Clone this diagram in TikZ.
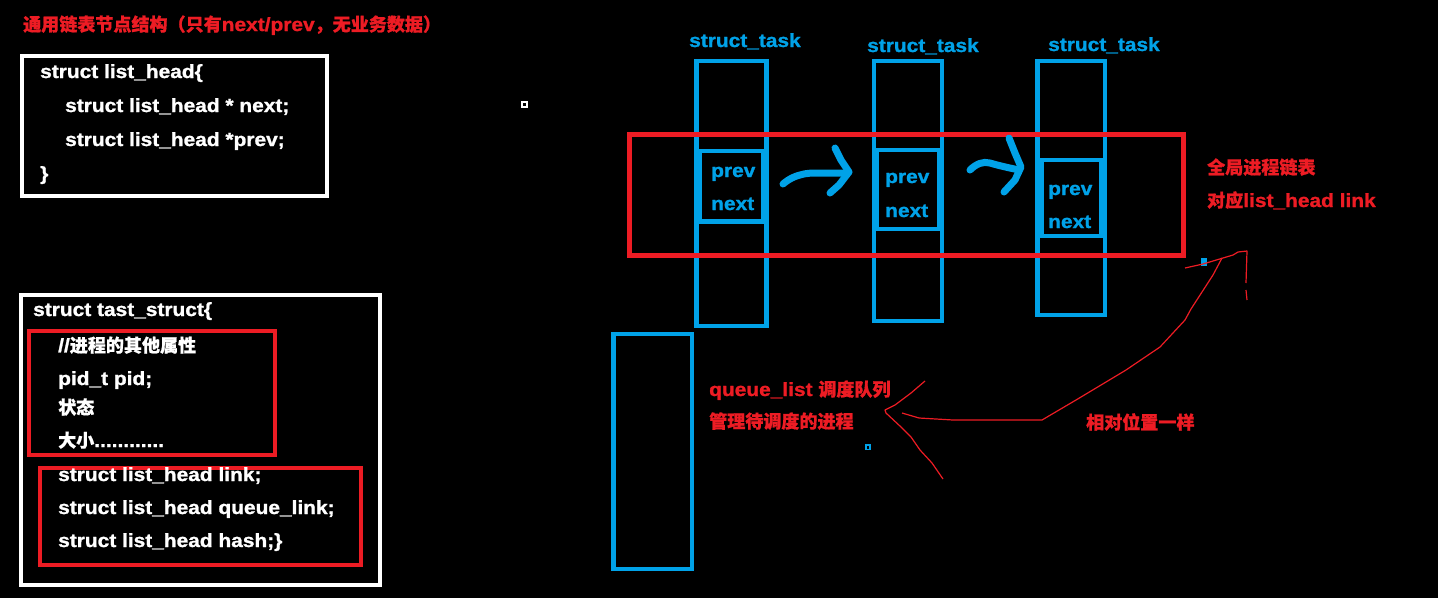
\documentclass[tikz,border=0pt]{standalone}
\usepackage{fontspec}
\setmainfont{Liberation Sans}[FakeStretch=1.1, BoldFeatures={FakeBold=1.3}]
\newfontfamily\cjk{Noto Sans CJK SC}[Scale=0.95, BoldFeatures={FakeBold=0.8}]
\definecolor{myred}{HTML}{ED1C24}
\definecolor{myblue}{HTML}{00A2E8}
\tikzset{
  txt/.style={anchor=base west, inner sep=0pt, font=\fontsize{19}{23}\selectfont\bfseries},
  code/.style={txt, text=white},
  redlbl/.style={txt, text=myred},
  bluelbl/.style={txt, text=myblue},
  wbox/.style={draw=white, line width=4pt},
  rbox/.style={draw=myred, line width=4pt},
  rbig/.style={draw=myred, line width=5pt},
  bbox/.style={draw=myblue, line width=4.5pt},
  marker/.style={draw=myblue, line width=7pt, line cap=round, line join=round},
  scribble/.style={draw=myred, line width=1.2pt, line join=round}
}
\begin{document}
\begin{tikzpicture}[x=1pt,y=-1pt]
\fill[black] (0,0) rectangle (1438,598);
\useasboundingbox (0,0) rectangle (1438,598);

% ---- title ----
\node[redlbl] (title) at (23,31) {{\cjk 通用链表节点结构（只有}next/prev{\cjk ，无业务数据）}};

% ---- list_head box ----
\draw[wbox] (22,56) rectangle (327,196);
\node[code] (lh1) at (40,78) {struct list\_head\{};
\node[code] (lh2) at (65,112) {struct list\_head * next;};
\node[code] (lh3) at (65,146) {struct list\_head *prev;};
\node[code] (lh4) at (40,180) {\}};

% ---- task struct box ----
\draw[wbox] (21,295) rectangle (380,585);
\draw[rbox] (29,331) rectangle (275,455);
\draw[rbox] (40,468) rectangle (361,565);
\node[code] (ts0) at (33,316) {struct tast\_struct\{};
\node[code] (ts1) at (58,352) {//{\cjk 进程的其他属性}};
\node[code] (ts2) at (58,385) {pid\_t pid;};
\node[code] (ts3) at (58,414) {{\cjk 状态}};
\node[code] (ts4) at (58,447) {{\cjk 大小}............};
\node[code] (ts5) at (58,481) {struct list\_head link;};
\node[code] (ts6) at (58,514) {struct list\_head queue\_link;};
\node[code] (ts7) at (58,547) {struct list\_head hash;\}};

% small white mark
\draw[white, line width=1.2pt] (522,102) rectangle (527,107);

% ---- struct_task columns ----
\node[bluelbl] (st1) at (689,47) {struct\_task};
\node[bluelbl] (st2) at (867,52) {struct\_task};
\node[bluelbl] (st3) at (1048,51) {struct\_task};

\draw[bbox] (696.5,61) rectangle (766.5,326);
\draw[bbox] (874,61) rectangle (942,321);
\draw[bbox] (1037.5,61) rectangle (1105,315);

\draw[bbox] (700,151) rectangle (763,221.5);
\draw[bbox] (877,150) rectangle (939,229);
\draw[bbox] (1042,160) rectangle (1101,236);
\fill[myblue] (1099,160) rectangle (1106,236);

\node[bluelbl] (p1) at (711,177) {prev};
\node[bluelbl] (n1) at (711,210) {next};
\node[bluelbl] (p2) at (885,183) {prev};
\node[bluelbl] (n2) at (885,217) {next};
\node[bluelbl] (p3) at (1048,195) {prev};
\node[bluelbl] (n3) at (1048,228) {next};

% ---- global list red box ----
\draw[rbig] (629,134.5) rectangle (1183,255.5);
\node[redlbl] (g1) at (1207,174) {{\cjk 全局进程链表}};
\node[redlbl] (g2) at (1207,207) {{\cjk 对应}list\_head link};

% ---- hand drawn blue arrows ----
\draw[marker] (783,184) .. controls (790,178) and (796,176) .. (800,175) .. controls (806,173) and (812,173) .. (820,173) -- (845,173);
\draw[marker] (835,148) -- (841,160) -- (849,172) -- (839,185) -- (830,193);
\draw[marker] (970,170) .. controls (976,164) and (983,161) .. (990,163) .. controls (1000,166) and (1010,168) .. (1019,170);
\draw[marker] (1009,138) -- (1015,153) -- (1021,167) -- (1015,180) -- (1004,192);

% ---- queue list column ----
\draw[bbox] (613.5,334) rectangle (692,569);
\node[redlbl] (q1) at (709,396) {queue\_list {\cjk 调度队列}};
\node[redlbl] (q2) at (709,428) {{\cjk 管理待调度的进程}};
\draw[myblue, line width=1.5pt] (866,445) rectangle (870,449.5);

% ---- red hand drawn scribbles ----
\node[redlbl] (same) at (1086,429) {{\cjk 相对位置一样}};
\fill[myblue] (1201,258) rectangle (1207,266);
\draw[scribble] (1185,268) -- (1203,264) -- (1223,258) -- (1233,255) -- (1238,252) -- (1247,251) -- (1246,283);
\draw[scribble] (1246,290) -- (1247,300);
\draw[scribble] (1222,258) -- (1213,275) -- (1202,292) -- (1191,309) -- (1185,320) -- (1160,347) -- (1126,370) -- (1076,400) -- (1042,420) -- (953,420) -- (919,418) -- (902,413);
\draw[scribble] (925,381) -- (911,393) -- (895,405) -- (885,410) -- (886,413) -- (901,427) -- (911,437) -- (920,450) -- (932,463) -- (943,479);
\end{tikzpicture}
\end{document}
